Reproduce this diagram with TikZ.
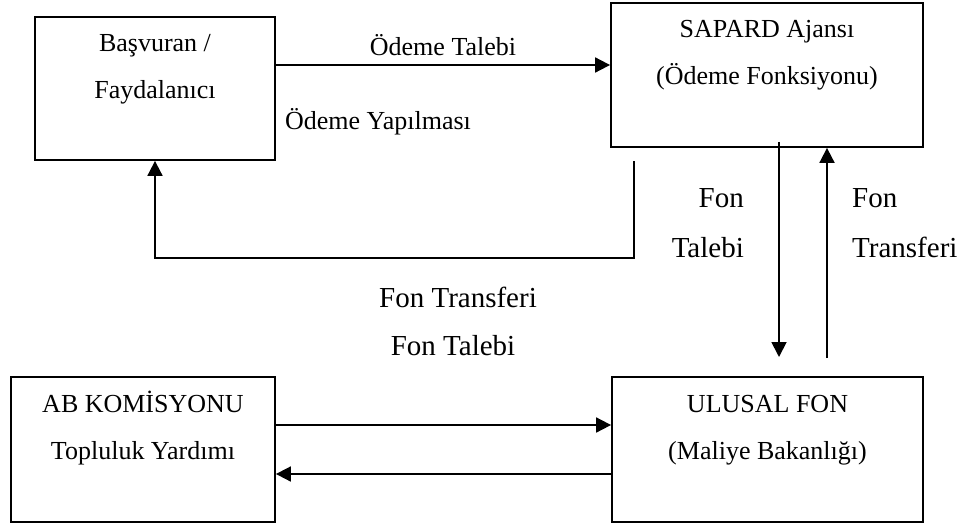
\documentclass[tikz,border=0pt]{standalone}
\usepackage{fontspec}
\setmainfont{Liberation Serif}
\usetikzlibrary{arrows.meta}
\newcommand{\boxlines}[3]{\parbox[c][#2][t]{#1}{\centering\rule{0pt}{35pt}#3}}

\begin{document}
\begin{tikzpicture}
	[x=1pt,y=-1pt,every node/.style={inner sep=0pt,font=\fontsize{26}{47}\selectfont},
	 kutu/.style={draw,line width=1.8pt}, edge/.style={-{Triangle[length=15pt,width=15pt]},line width=1.8pt},
	 buyuk/.style={font=\fontsize{29}{50}\selectfont}]
	\useasboundingbox (0,0) rectangle (965,524);
	\node[kutu] (basvuran) at (155,88.5) {\boxlines{240pt}{143pt}{Başvuran /\\ Faydalanıcı}};
	\node[kutu] (sapard) at (767,75) {\boxlines{312pt}{144pt}{SAPARD Ajansı\\ (Ödeme Fonksiyonu)}};
	\node[kutu] (ab) at (143,449.5) {\boxlines{264pt}{145pt}{AB KOMİSYONU\\ Topluluk Yardımı}};
	\node[kutu] (ulusal) at (767.5,449.5) {\boxlines{311pt}{145pt}{ULUSAL FON\\ (Maliye Bakanlığı)}};
	
	\coordinate (odeme) at (634,161);
	\coordinate (talepUc) at (779,357);
	\coordinate (transferUc) at (827,358);
	
	\draw[edge] (basvuran.east |- 0,65) -- (sapard.west |- 0,65) node[midway,above=8pt] (odemetalebi) {Ödeme Talebi};
	\draw[edge] (odeme) |- ([yshift=-97pt]basvuran.south) -- (basvuran.south);
	\node (yapilmasi) at (378,122) {Ödeme Yapılması};
	
	\draw[edge] ([xshift=12pt,yshift=6pt]sapard.south) -- (talepUc);
	\draw[edge] (transferUc) -- ([xshift=60pt]sapard.south);
	\node[buyuk,align=right,anchor=east] (fontalebi) at (744,223) {Fon\\Talebi};
	\node[buyuk,align=left,anchor=west] (fontransferi) at (852,223) {Fon\\Transferi};
	
	\node[buyuk] (transfer) at (458,297) {Fon Transferi};
	\node[buyuk] (talep) at (453,346) {Fon Talebi};
	\draw[edge] ([yshift=24.5pt]ab.east) -- ([yshift=24.5pt]ulusal.west);
	\draw[edge] ([yshift=-24.5pt]ulusal.west) -- ([yshift=-24.5pt]ab.east);
\end{tikzpicture}
\end{document}
